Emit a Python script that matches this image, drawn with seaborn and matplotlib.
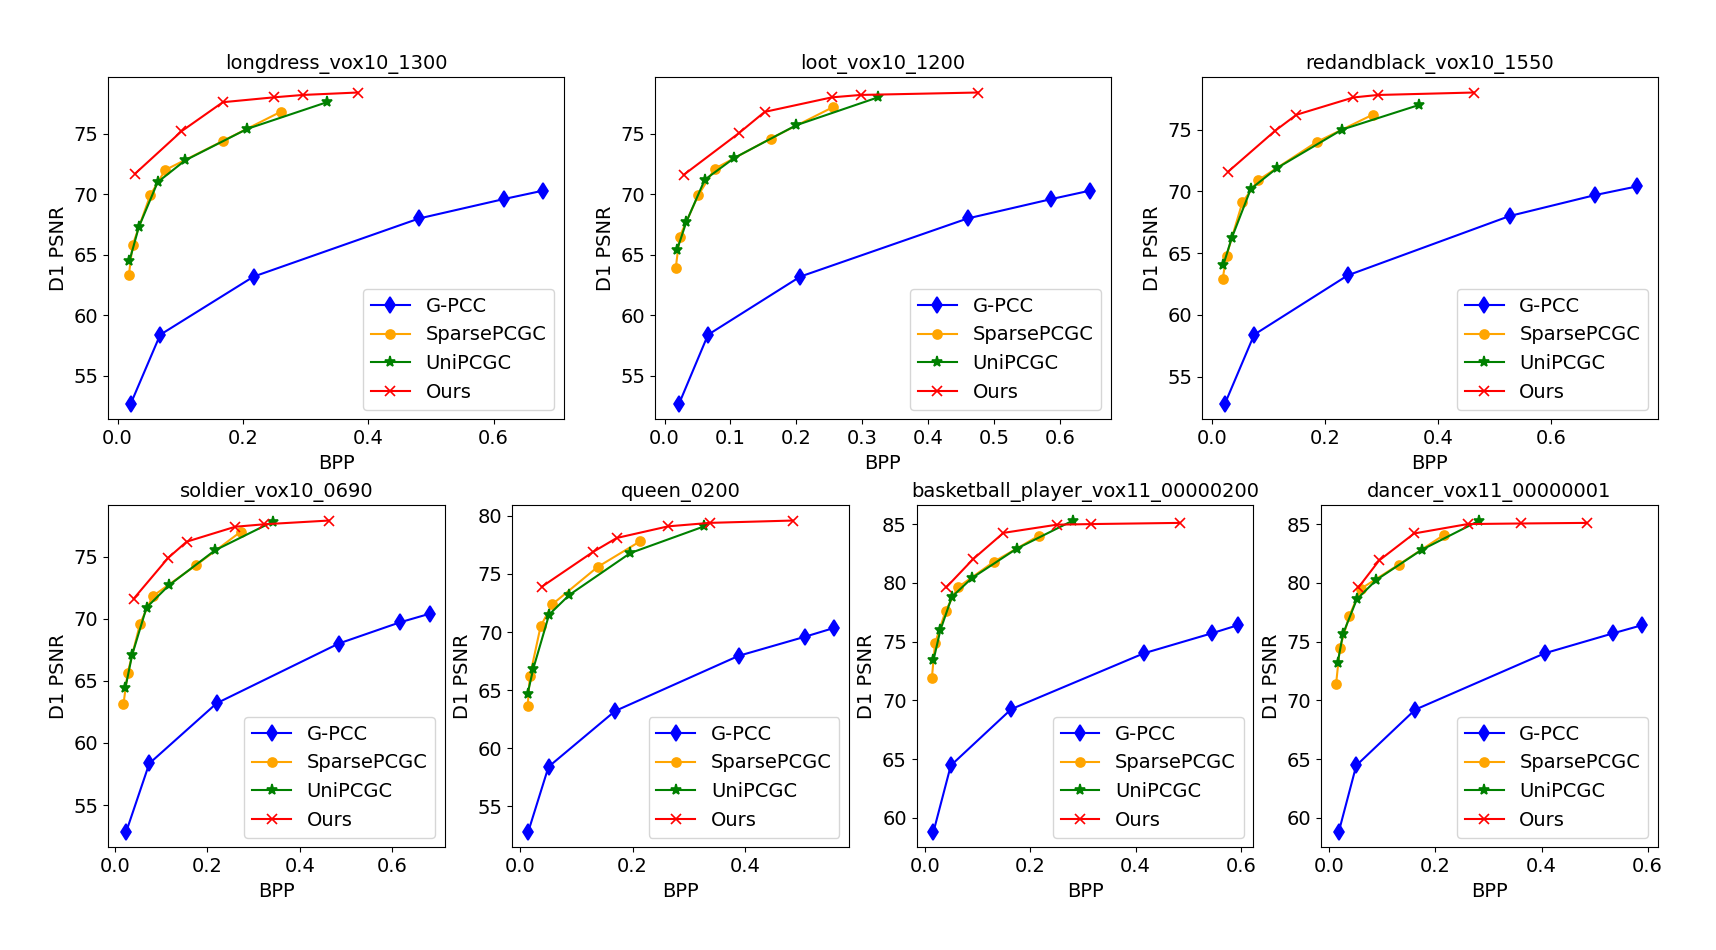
import numpy as np
import pandas as pd
import matplotlib
matplotlib.use('Agg')
import matplotlib.pyplot as plt
import seaborn as sns

plt.rcParams['font.size'] = 14

# 各序列名称
titles = ['longdress_vox10_1300', 'loot_vox10_1200', 'redandblack_vox10_1550',
          'soldier_vox10_0690', 'queen_0200', 'basketball_player_vox11_00000200',
          'dancer_vox11_00000001']
methods = ['G-PCC', 'SparsePCGC', 'UniPCGC', 'Ours']

# BPP / D1 PSNR
gpcc_bpp = [
    [0.021, 0.068, 0.217, 0.481, 0.616, 0.679],
    [0.022, 0.066, 0.206, 0.460, 0.587, 0.646],
    [0.022, 0.074, 0.240, 0.527, 0.679, 0.753],
    [0.024, 0.074, 0.220, 0.484, 0.616, 0.681],
    [0.015, 0.051, 0.169, 0.388, 0.506, 0.557],
    [0.016, 0.049, 0.164, 0.416, 0.545, 0.595],
    [0.018, 0.051, 0.162, 0.406, 0.535, 0.590],
]
gpcc_psnr = [
    [52.7, 58.4, 63.2, 68.0, 69.6, 70.3],
    [52.7, 58.4, 63.2, 68.0, 69.6, 70.3],
    [52.8, 58.4, 63.2, 68.0, 69.7, 70.4],
    [52.85, 58.35, 63.2, 68.0, 69.7, 70.4],
    [52.8, 58.4, 63.2, 67.95, 69.6, 70.35],
    [58.8, 64.45, 69.25, 74.0, 75.7, 76.4],
    [58.8, 64.45, 69.2, 74.0, 75.7, 76.4],
]
sparse_bpp = [
    [0.018, 0.024, 0.052, 0.076, 0.168, 0.260],
    [0.017, 0.023, 0.051, 0.076, 0.161, 0.256],
    [0.018, 0.025, 0.053, 0.081, 0.185, 0.284],
    [0.018, 0.027, 0.054, 0.081, 0.175, 0.272],
    [0.014, 0.018, 0.037, 0.058, 0.138, 0.213],
    [0.013, 0.019, 0.039, 0.062, 0.131, 0.216],
    [0.013, 0.020, 0.038, 0.060, 0.131, 0.217],
]
sparse_psnr = [
    [63.3, 65.8, 69.9, 72.0, 74.4, 76.8],
    [63.9, 66.5, 69.9, 72.1, 74.6, 77.2],
    [62.9, 64.8, 69.1, 70.9, 74.0, 76.2],
    [63.1, 65.6, 69.6, 71.8, 74.3, 77.0],
    [63.6, 66.2, 70.5, 72.4, 75.6, 77.8],
    [71.9, 74.85, 77.6, 79.6, 81.8, 84.0],
    [71.4, 74.45, 77.2, 79.5, 81.55, 84.1],
]
uni_bpp = [
    [0.019, 0.034, 0.064, 0.108, 0.207, 0.334],
    [0.019, 0.033, 0.061, 0.106, 0.200, 0.324],
    [0.019, 0.034, 0.068, 0.115, 0.230, 0.367],
    [0.022, 0.037, 0.068, 0.117, 0.216, 0.341],
    [0.014, 0.024, 0.052, 0.088, 0.196, 0.327],
    [0.016, 0.029, 0.051, 0.089, 0.174, 0.281],
    [0.016, 0.026, 0.052, 0.089, 0.174, 0.283],
]
uni_psnr = [
    [64.5, 67.3, 71.0, 72.8, 75.4, 77.6],
    [65.4, 67.7, 71.2, 73.0, 75.7, 78.0],
    [64.0, 66.2, 70.2, 71.9, 75.0, 77.0],
    [64.4, 67.1, 70.9, 72.7, 75.5, 77.8],
    [64.7, 66.85, 71.5, 73.2, 76.8, 79.1],
    [73.4, 75.95, 78.8, 80.4, 82.9, 85.3],
    [73.2, 75.65, 78.6, 80.25, 82.8, 85.3],
]
ours_bpp = [
    [0.028, 0.102, 0.168, 0.249, 0.296, 0.383],
    [0.029, 0.113, 0.152, 0.254, 0.298, 0.476],
    [0.028, 0.111, 0.149, 0.250, 0.293, 0.464],
    [0.040, 0.115, 0.155, 0.260, 0.323, 0.463],
    [0.039, 0.130, 0.172, 0.263, 0.337, 0.484],
    [0.040, 0.091, 0.149, 0.251, 0.316, 0.484],
    [0.055, 0.094, 0.160, 0.261, 0.361, 0.485],
]
ours_psnr = [
    [71.7, 75.2, 77.6, 78.0, 78.2, 78.4],
    [71.6, 75.05, 76.8, 78.0, 78.2, 78.4],
    [71.6, 74.9, 76.2, 77.6, 77.8, 78.0],
    [71.6, 74.9, 76.2, 77.4, 77.6, 77.9],
    [73.9, 76.9, 78.1, 79.1, 79.4, 79.6],
    [79.6, 82.0, 84.25, 84.95, 85.0, 85.1],
    [79.6, 81.9, 84.2, 85.0, 85.05, 85.1],
]

colors = ['blue', 'orange', 'green', 'red']
markers = ['d', 'o', '*', 'x']
msizes = [8, 6.5, 8, 7]


def plot_one(ax, i):
    series = [(gpcc_bpp[i], gpcc_psnr[i]), (sparse_bpp[i], sparse_psnr[i]),
              (uni_bpp[i], uni_psnr[i]), (ours_bpp[i], ours_psnr[i])]
    for k, (bx, py) in enumerate(series):
        df = pd.DataFrame({'BPP': bx, 'PSNR': py})
        sns.lineplot(data=df, x='BPP', y='PSNR', ax=ax, color=colors[k],
                     marker=markers[k], markersize=msizes[k], mec=colors[k],
                     mew=1.2, linewidth=1.5, label=methods[k])
    ax.set_title(titles[i], fontsize=14)
    ax.set_xlabel('BPP', fontsize=14)
    ax.set_ylabel('D1 PSNR', fontsize=14)
    ax.legend(loc='lower right', fontsize=14)


fig = plt.figure(figsize=(17.16, 9.5), dpi=100)
for i in range(3):
    ax = fig.add_subplot(2, 3, i + 1)
    plot_one(ax, i)
for j in range(4):
    ax = fig.add_subplot(2, 4, j + 5)
    plot_one(ax, j + 3)

plt.subplots_adjust(left=0.063, right=0.966, top=0.919, bottom=0.108,
                    wspace=0.2, hspace=0.25)
plt.savefig('out.png', dpi=100)
